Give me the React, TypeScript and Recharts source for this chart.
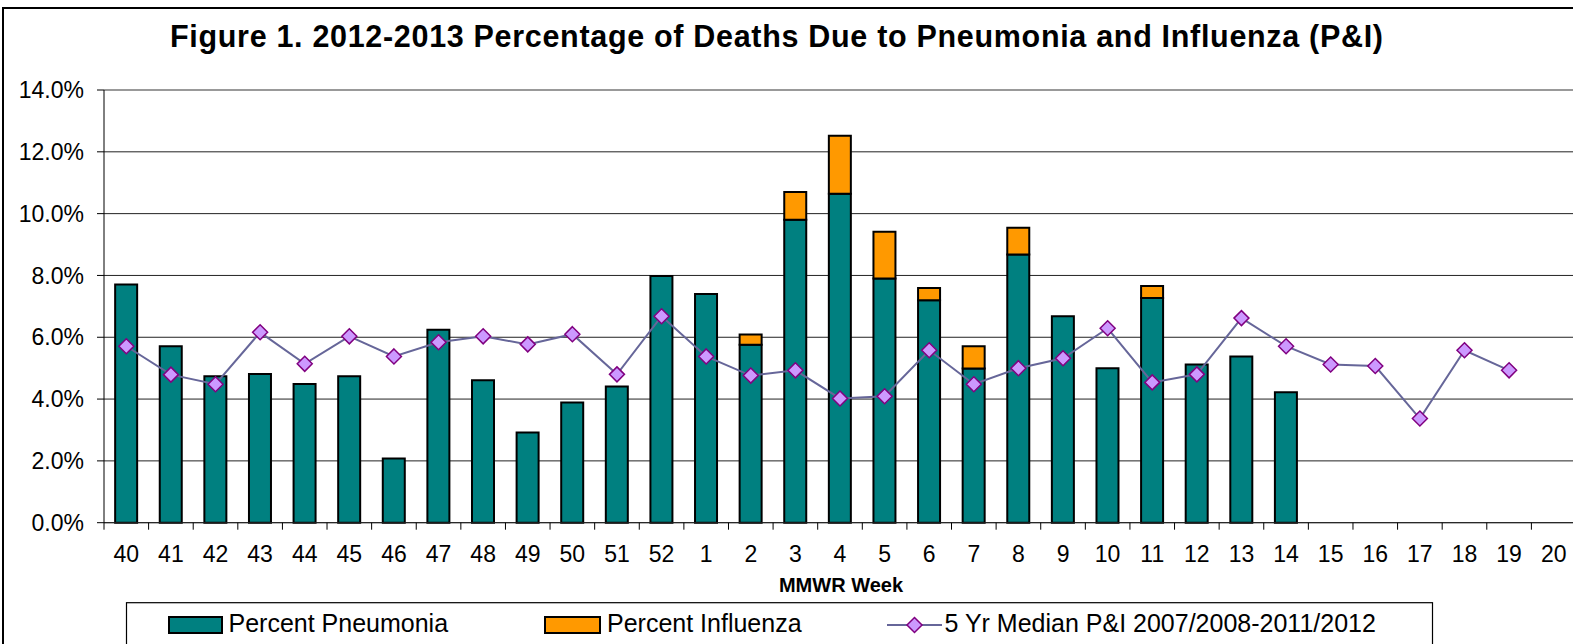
import React from 'react';
import {ComposedChart, Bar, Line, XAxis, YAxis, CartesianGrid, ReferenceLine} from 'recharts';

const weeks = [
    '40', '41', '42', '43', '44', '45', '46', '47', '48', '49', '50', '51', '52',
    '1', '2', '3', '4', '5', '6', '7', '8', '9', '10', '11', '12', '13', '14',
    '15', '16', '17', '18', '19', '20',
];

const pneumonia = [
    7.71, 5.71, 4.74, 4.81, 4.49, 4.74, 2.08, 6.24, 4.61, 2.92, 3.89, 4.41, 7.98,
    7.40, 5.76, 9.80, 10.64, 7.90, 7.20, 4.99, 8.68, 6.68, 5.00, 7.27, 5.12, 5.38, 4.22,
    null, null, null, null, null, null,
];

const influenza = [
    null, null, null, null, null, null, null, null, null, null, null, null, null,
    null, 0.33, 0.90, 1.88, 1.51, 0.39, 0.72, 0.86, null, null, 0.39, null, null, null,
    null, null, null, null, null, null,
];

const median = [
    5.71, 4.79, 4.48, 6.16, 5.14, 6.03, 5.38, 5.84, 6.03, 5.77, 6.10, 4.80, 6.68,
    5.38, 4.76, 4.93, 4.02, 4.09, 5.58, 4.48, 5.00, 5.32, 6.29, 4.54, 4.80, 6.62, 5.71,
    5.12, 5.07, 3.37, 5.58, 4.93, null,
];

const yTicks = [0, 2, 4, 6, 8, 10, 12, 14];

const TEAL = '#008080';
const ORANGE = '#FF9900';
const LINE = '#666699';
const MARKER_FILL = '#CC99FF';
const MARKER_STROKE = '#800080';

const CHART_W = 1576;
const CHART_H = 644;
const Y_W = 104;
const STEP = (CHART_W - Y_W) / weeks.length;

const data = weeks.map((week, i) => ({
    week,
    pneumonia: pneumonia[i],
    influenza: influenza[i],
    median: median[i],
}));

const Diamond = (props: any) => {
    const {cx, cy, value, index} = props;
    if (value == null || cx == null || cy == null) return <g key={index}/>;
    const r = 7.5;
    return (
        <polygon
            key={index}
            points={`${cx},${cy - r} ${cx + r},${cy} ${cx},${cy + r} ${cx - r},${cy}`}
            fill={MARKER_FILL}
            stroke={MARKER_STROKE}
            strokeWidth={1.5}
        />
    );
};

const WeekTick = (props: any) => {
    const {x, y, payload} = props;
    return (
        <g>
            <line x1={x - STEP / 2} x2={x - STEP / 2} y1={y} y2={y + 7} stroke="#000"/>
            <text x={x} y={y + 39} textAnchor="middle" fontSize={23} fill="#000">{payload.value}</text>
        </g>
    );
};

export default function App() {
    return (
        <div style={{
            position: 'absolute', left: 0, top: 0, width: 1573, height: 644, overflow: 'hidden',
            background: '#fff', fontFamily: '"Liberation Sans", Arial, sans-serif',
        }}>
            <ComposedChart
                width={CHART_W}
                height={CHART_H}
                data={data}
                margin={{top: 90, right: 0, left: 0, bottom: 61.3}}
                barCategoryGap="25%"
            >
                <CartesianGrid horizontal={true} vertical={false} stroke="#222"/>
                <ReferenceLine y={14} stroke="#999" strokeWidth={2}/>
                <XAxis
                    dataKey="week"
                    interval={0}
                    height={60}
                    stroke="#222"
                    tickLine={false}
                    tickSize={0}
                    tickMargin={0}
                    tick={<WeekTick/>}
                />
                <YAxis
                    width={Y_W}
                    domain={[0, 14]}
                    ticks={yTicks}
                    interval={0}
                    stroke="#000"
                    tickSize={7}
                    tickMargin={13}
                    tick={{fontSize: 23, fill: '#000'}}
                    tickFormatter={(v: number) => `${v.toFixed(1)}%`}
                />
                <Bar dataKey="pneumonia" stackId="pi" fill={TEAL} stroke="#000" strokeWidth={2} isAnimationActive={false}/>
                <Bar dataKey="influenza" stackId="pi" fill={ORANGE} stroke="#000" strokeWidth={2} isAnimationActive={false}/>
                <Line
                    dataKey="median"
                    type="linear"
                    stroke={LINE}
                    strokeWidth={2}
                    dot={<Diamond/>}
                    activeDot={false}
                    isAnimationActive={false}
                />
            </ComposedChart>
            <svg width={1573} height={644} style={{position: 'absolute', left: 0, top: 0, pointerEvents: 'none'}}>
                <path d="M3,660 V8 H1600" fill="none" stroke="#000" strokeWidth={2}/>
                <text x={170} y={47} fontSize={30.5} fontWeight="bold" fill="#000"
                      textLength={1213} lengthAdjust="spacing">
                    Figure 1. 2012-2013 Percentage of Deaths Due to Pneumonia and Influenza (P&amp;I)
                </text>
                <text x={841} y={591.5} fontSize={20} fontWeight="bold" textAnchor="middle" fill="#000">MMWR Week</text>
                <rect x={126.5} y={602.7} width={1306} height={80} fill="#fff" stroke="#000" strokeWidth={1.2}/>
                <rect x={169} y={617} width={53} height={16} fill={TEAL} stroke="#000" strokeWidth={2}/>
                <text x={228.5} y={631.7} fontSize={25} fill="#000">Percent Pneumonia</text>
                <rect x={545} y={617} width={55} height={16} fill={ORANGE} stroke="#000" strokeWidth={2}/>
                <text x={607} y={631.7} fontSize={25} fill="#000">Percent Influenza</text>
                <line x1={887} x2={942} y1={625} y2={625} stroke={LINE} strokeWidth={2}/>
                <polygon points="914.5,617.5 922,625 914.5,632.5 907,625" fill={MARKER_FILL} stroke={MARKER_STROKE} strokeWidth={1.5}/>
                <text x={944.5} y={631.7} fontSize={25} fill="#000">5 Yr Median P&amp;I 2007/2008-2011/2012</text>
            </svg>
        </div>
    );
}
